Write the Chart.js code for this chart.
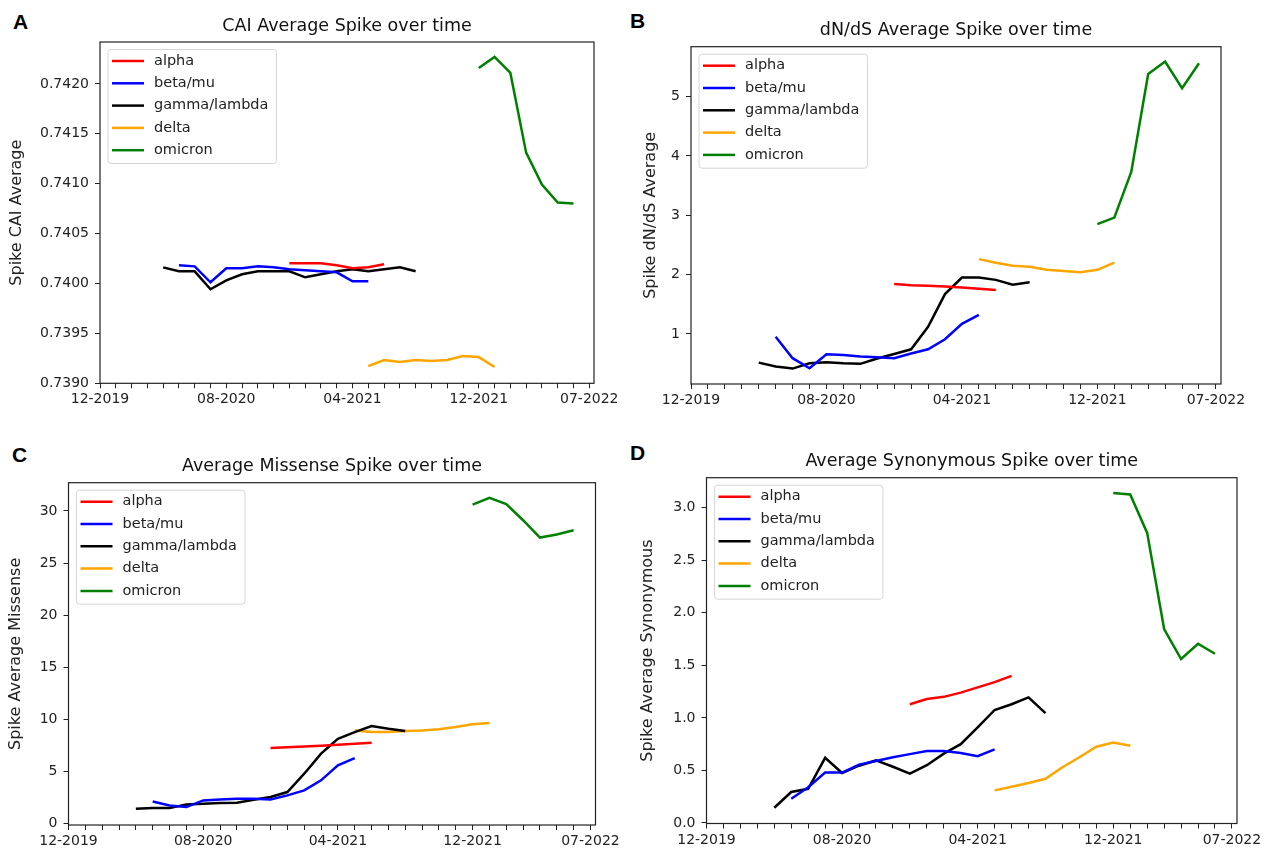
<!DOCTYPE html>
<html>
<head>
<meta charset="utf-8">
<script src="https://cdn.jsdelivr.net/npm/chart.js@4.4.1/dist/chart.umd.min.js"></script>
<style>
  html, body { margin: 0; background: #fff; }
  #fig { position: relative; width: 1269px; height: 852px; overflow: hidden; background: #fff; }
  #fig canvas { position: absolute; }
  .tag { position: absolute; font: bold 21px/21px "Liberation Sans", Arial, sans-serif; color: #000; }
</style>
</head>
<body>
<div id="fig">
  <div class="tag" style="left:13px;top:11px">A</div>
  <div class="tag" style="left:630px;top:10px">B</div>
  <div class="tag" style="left:12px;top:444px">C</div>
  <div class="tag" style="left:630px;top:442px">D</div>
  <canvas id="chartA"></canvas>
  <canvas id="chartB"></canvas>
  <canvas id="chartC"></canvas>
  <canvas id="chartD"></canvas>
</div>
<script>
// x values are months counted from 12-2019 (= 0)
const variants = ['alpha', 'beta/mu', 'gamma/lambda', 'delta', 'omicron']
const colors = ['#ff0000', '#0000ff', '#000000', '#ffa500', '#008000']

const alphaMonths = [12, 13, 14, 15, 16, 17, 18]
const betaMonths = [5, 6, 7, 8, 9, 10, 11, 12, 13, 14, 15, 16, 17]
const gammaMonths = [4, 5, 6, 7, 8, 9, 10, 11, 12, 13, 14, 15, 16, 17, 18, 19, 20]
const deltaMonths = [17, 18, 19, 20, 21, 22, 23, 24, 25]
const omicronMonths = [24, 25, 26, 27, 28, 29, 30]

const xTickMonths = [0, 1, 2, 3, 4, 5, 6, 7, 8, 9, 10, 11, 12, 13, 14, 15, 16, 17, 18, 19, 20, 21, 22, 23, 24, 25, 26, 27, 28, 29, 30, 31]
const xLabelMonths = [0, 8, 16, 24, 31]
const xLabels = ['12-2019', '08-2020', '04-2021', '12-2021', '07-2022']

// A: CAI
const caiAlpha = [0.74020, 0.74020, 0.74020, 0.74018, 0.74015, 0.74016, 0.74019]
const caiBeta = [0.74018, 0.74017, 0.74001, 0.74015, 0.74015, 0.74017, 0.74016, 0.74014, 0.74013, 0.74012, 0.74011, 0.74002, 0.74002]
const caiGamma = [0.74016, 0.74012, 0.74012, 0.73994, 0.74003, 0.74009, 0.74012, 0.74012, 0.74012, 0.74006, 0.74009, 0.74012, 0.74014, 0.74012, 0.74014, 0.74016, 0.74012]
const caiDelta = [0.73917, 0.73923, 0.73921, 0.73923, 0.73922, 0.73923, 0.73927, 0.73926, 0.73916]
const caiOmicron = [0.74216, 0.74227, 0.74211, 0.74131, 0.74099, 0.74081, 0.74080]
const caiTicks = [0.7390, 0.7395, 0.7400, 0.7405, 0.7410, 0.7415, 0.7420]

// B: dN/dS
const dndsAlpha = [1.84, 1.82, 1.81, 1.80, 1.78, 1.76, 1.74]
const dndsBeta = [0.95, 0.59, 0.42, 0.655, 0.645, 0.62, 0.605, 0.59, 0.67, 0.74, 0.91, 1.17, 1.32]
const dndsGamma = [0.515, 0.45, 0.415, 0.505, 0.52, 0.504, 0.495, 0.585, 0.66, 0.74, 1.12, 1.67, 1.95, 1.95, 1.91, 1.83, 1.87]
const dndsDelta = [2.26, 2.20, 2.15, 2.13, 2.08, 2.06, 2.04, 2.08, 2.20]
const dndsOmicron = [2.85, 2.96, 3.73, 5.38, 5.59, 5.14, 5.56]
const dndsTicks = [1, 2, 3, 4, 5]

// C: missense
const misAlpha = [7.26, 7.33, 7.40, 7.48, 7.57, 7.66, 7.77]
const misBeta = [2.14, 1.76, 1.60, 2.24, 2.33, 2.40, 2.40, 2.33, 2.72, 3.20, 4.16, 5.60, 6.30]
const misGamma = [1.44, 1.50, 1.50, 1.85, 1.92, 1.98, 2.01, 2.30, 2.56, 3.04, 4.80, 6.72, 8.15, 8.79, 9.37, 9.11, 8.89]
const misDelta = [8.95, 8.79, 8.79, 8.89, 8.95, 9.05, 9.27, 9.53, 9.66]
const misOmicron = [30.6, 31.24, 30.64, 29.1, 27.44, 27.73, 28.14]
const misTicks = [0, 5, 10, 15, 20, 25, 30]

// D: synonymous
const synAlpha = [1.13, 1.18, 1.20, 1.24, 1.29, 1.34, 1.40]
const synBeta = [0.23, 0.34, 0.48, 0.48, 0.555, 0.59, 0.625, 0.655, 0.685, 0.685, 0.665, 0.635, 0.70]
const synGamma = [0.145, 0.295, 0.325, 0.62, 0.475, 0.545, 0.595, 0.535, 0.47, 0.55, 0.66, 0.75, 0.91, 1.075, 1.13, 1.195, 1.045]
const synDelta = [0.31, 0.345, 0.38, 0.42, 0.53, 0.625, 0.725, 0.765, 0.735]
const synOmicron = [3.14, 3.125, 2.76, 1.845, 1.56, 1.705, 1.61]
const synTicks = [0.0, 0.5, 1.0, 1.5, 2.0, 2.5, 3.0]

const seriesMonths = [alphaMonths, betaMonths, gammaMonths, deltaMonths, omicronMonths]

Chart.defaults.font.family = '"DejaVu Sans", sans-serif'
Chart.defaults.color = '#222'

// spines on all four sides + matplotlib-style legend in the upper left
const framePlugin = {
    id: 'frame-and-legend',
    afterDatasetsDraw(chart) {
        const {ctx, chartArea: {left, top, right, bottom}} = chart
        ctx.save()
        ctx.strokeStyle = '#222'
        ctx.lineWidth = 1.2
        ctx.strokeRect(left, top, right - left, bottom - top)

        ctx.font = '14.5px "DejaVu Sans"'
        const textW = Math.max(...chart.data.datasets.map(ds => ctx.measureText(ds.label).width))
        const x = left + 8, y = top + 7.5, w = 46 + textW + 8, h = 114
        ctx.beginPath()
        if (ctx.roundRect) ctx.roundRect(x, y, w, h, 3)
        else ctx.rect(x, y, w, h)
        ctx.fillStyle = 'rgba(255,255,255,0.8)'
        ctx.fill()
        ctx.strokeStyle = '#d6d6d6'
        ctx.lineWidth = 1
        ctx.stroke()

        ctx.textBaseline = 'middle'
        ctx.textAlign = 'left'
        chart.data.datasets.forEach((ds, i) => {
            const cy = y + 11.5 + i * 22.3
            ctx.strokeStyle = ds.borderColor
            ctx.lineWidth = 2.5
            ctx.beginPath()
            ctx.moveTo(x + 4, cy)
            ctx.lineTo(x + 36, cy)
            ctx.stroke()
            ctx.fillStyle = '#222'
            ctx.fillText(ds.label, x + 46, cy)
        })
        ctx.restore()
    },
}

function makeChart(id, panel) {
    const [cx, cy, cw, ch] = panel.box
    const [l, t, r, b] = panel.area
    const canvas = document.getElementById(id)
    canvas.width = cw
    canvas.height = ch
    canvas.style.left = cx + 'px'
    canvas.style.top = cy + 'px'

    return new Chart(canvas, {
        type: 'line',
        data: {
            datasets: variants.map((name, i) => ({
                label: name,
                data: seriesMonths[i].map((m, j) => ({x: m, y: panel.values[i][j]})),
                borderColor: colors[i],
                backgroundColor: colors[i],
                borderWidth: 2.5,
                pointRadius: 0,
                tension: 0,
                fill: false,
            })),
        },
        options: {
            responsive: false,
            animation: false,
            layout: {padding: {top: 0, left: 0, bottom: 0, right: cx + cw - r}},
            plugins: {
                legend: {display: false},
                tooltip: {enabled: false},
                title: {
                    display: true,
                    text: panel.title,
                    fullSize: false,
                    color: '#111',
                    font: {size: 17.5, weight: 'normal', lineHeight: 1.2},
                    padding: {top: t - 16 - 10.5 - cy, bottom: 5.5},
                },
            },
            scales: {
                x: {
                    type: 'linear',
                    min: 0,
                    max: 31.3,
                    afterBuildTicks: s => { s.ticks = xTickMonths.map(v => ({value: v})) },
                    afterFit: s => { s.height = cy + ch - b },
                    border: {display: false},
                    grid: {drawOnChartArea: false, drawTicks: true, tickLength: 5, color: '#222', lineWidth: 1},
                    ticks: {
                        autoSkip: false,
                        maxRotation: 0,
                        minRotation: 0,
                        padding: 3,
                        font: {size: 14},
                        callback: v => {
                            const k = xLabelMonths.indexOf(v)
                            return k >= 0 ? xLabels[k] : ''
                        },
                    },
                },
                y: {
                    type: 'linear',
                    min: panel.yMin,
                    max: panel.yMax,
                    afterBuildTicks: s => { s.ticks = panel.yTicks.map(v => ({value: v})) },
                    afterFit: s => { s.width = l - cx },
                    border: {display: false},
                    grid: {drawOnChartArea: false, drawTicks: true, tickLength: 5, color: '#222', lineWidth: 1},
                    ticks: {
                        padding: 6,
                        font: {size: 14},
                        callback: v => v.toFixed(panel.digits),
                    },
                    title: {
                        display: true,
                        text: panel.yTitle,
                        color: '#222',
                        font: {size: 16, lineHeight: 1.2},
                        padding: {top: panel.yTitleX - cx - 9.6, bottom: 0},
                    },
                },
            },
        },
        plugins: [framePlugin],
    })
}

makeChart('chartA', {
    box: [0, 0, 625, 420], area: [100, 42, 594, 383.3],
    title: 'CAI Average Spike over time', yTitle: 'Spike CAI Average', yTitleX: 17,
    yMin: 0.738997, yMax: 0.74242, yTicks: caiTicks, digits: 4,
    values: [caiAlpha, caiBeta, caiGamma, caiDelta, caiOmicron],
})
makeChart('chartB', {
    box: [630, 0, 639, 420], area: [691, 46.7, 1221, 384],
    title: 'dN/dS Average Spike over time', yTitle: 'Spike dN/dS Average', yTitleX: 651,
    yMin: 0.155, yMax: 5.84, yTicks: dndsTicks, digits: 0,
    values: [dndsAlpha, dndsBeta, dndsGamma, dndsDelta, dndsOmicron],
})
makeChart('chartC', {
    box: [0, 430, 625, 422], area: [68.5, 482.7, 595.5, 825],
    title: 'Average Missense Spike over time', yTitle: 'Spike Average Missense', yTitleX: 16,
    yMin: -0.12, yMax: 32.7, yTicks: misTicks, digits: 0,
    values: [misAlpha, misBeta, misGamma, misDelta, misOmicron],
})
makeChart('chartD', {
    box: [630, 430, 639, 422], area: [706.5, 477.7, 1237, 823.5],
    title: 'Average Synonymous Spike over time', yTitle: 'Spike Average Synonymous', yTitleX: 647.5,
    yMin: -0.005, yMax: 3.285, yTicks: synTicks, digits: 1,
    values: [synAlpha, synBeta, synGamma, synDelta, synOmicron],
})
</script>
</body>
</html>
